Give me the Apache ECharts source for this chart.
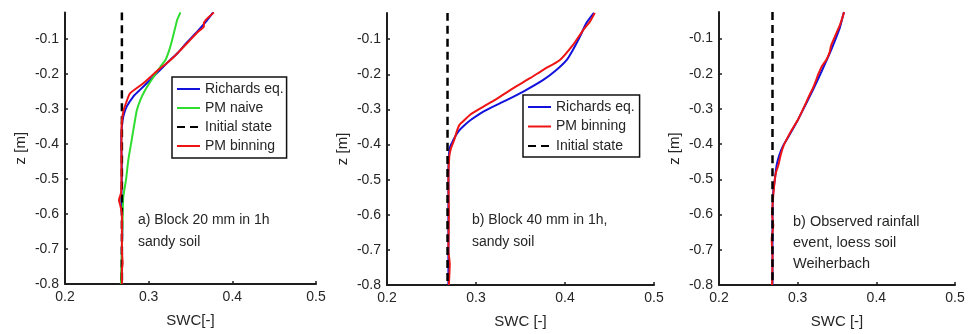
<!DOCTYPE html>
<html>
<head>
<meta charset="utf-8">
<script src="https://cdn.jsdelivr.net/npm/echarts@6/dist/echarts.min.js"></script>
<style>
  html, body { margin: 0; padding: 0; background: #fff; }
  #chart { width: 968px; height: 334px; }
</style>
</head>
<body>
<div id="chart"></div>
<script>
// ---- data (SWC [-], z [m]) ----
const zTicks = [-0.8, -0.7, -0.6, -0.5, -0.4, -0.3, -0.2, -0.1];
const swcTicks = [0.2, 0.3, 0.4, 0.5];
const zRange = [-0.8, -0.025];
const swcRange = [0.2, 0.5];
const initialState = [[0.268, -0.025], [0.268, -0.8]];

// panel a) Block 20 mm in 1h, sandy soil
const aRichards = [[0.377,-0.025],[0.369,-0.05],[0.358,-0.08],[0.346,-0.11],[0.335,-0.14],[0.326,-0.16],[0.3175,-0.18],[0.309,-0.2],[0.3016,-0.218],[0.2896,-0.246],[0.2816,-0.265],[0.2737,-0.294],[0.2697,-0.322],[0.268,-0.35],[0.2672,-0.4],[0.2678,-0.45],[0.2678,-0.5],[0.2675,-0.55],[0.268,-0.6],[0.2685,-0.65],[0.268,-0.7],[0.268,-0.75],[0.268,-0.8]];
const aNaive = [[0.338,-0.025],[0.334,-0.047],[0.332,-0.066],[0.330,-0.085],[0.327,-0.113],[0.324,-0.137],[0.320,-0.161],[0.314,-0.180],[0.310,-0.194],[0.302,-0.223],[0.296,-0.246],[0.290,-0.275],[0.286,-0.303],[0.2837,-0.332],[0.2797,-0.389],[0.2757,-0.446],[0.2729,-0.503],[0.2697,-0.551],[0.269,-0.597],[0.2678,-0.711],[0.2668,-0.8]];
const aBinning = [[0.378,-0.025],[0.371,-0.04],[0.366,-0.055],[0.366,-0.065],[0.359,-0.08],[0.347,-0.11],[0.339,-0.13],[0.331,-0.15],[0.3215,-0.17],[0.3115,-0.189],[0.304,-0.205],[0.2936,-0.227],[0.2777,-0.256],[0.2735,-0.28],[0.2697,-0.308],[0.2678,-0.341],[0.2675,-0.4],[0.2675,-0.5],[0.267,-0.54],[0.2645,-0.56],[0.266,-0.575],[0.268,-0.6],[0.268,-0.65],[0.268,-0.7],[0.2688,-0.74],[0.268,-0.76],[0.268,-0.8]];

// panel b) Block 40 mm in 1h, sandy soil
const bRichards = [[0.4325,-0.025],[0.424,-0.054],[0.4167,-0.093],[0.409,-0.13],[0.402,-0.159],[0.3906,-0.187],[0.3756,-0.216],[0.3532,-0.249],[0.3307,-0.278],[0.3083,-0.306],[0.294,-0.33],[0.287,-0.345],[0.281,-0.36],[0.2766,-0.377],[0.273,-0.395],[0.2705,-0.41],[0.2695,-0.434],[0.269,-0.47],[0.269,-0.55],[0.269,-0.65],[0.269,-0.75],[0.269,-0.8]];
const bBinning = [[0.4335,-0.025],[0.428,-0.05],[0.4204,-0.074],[0.409,-0.116],[0.3943,-0.159],[0.3756,-0.187],[0.3607,-0.211],[0.342,-0.239],[0.3214,-0.273],[0.3083,-0.292],[0.2934,-0.315],[0.285,-0.335],[0.2814,-0.344],[0.279,-0.358],[0.2755,-0.387],[0.272,-0.41],[0.270,-0.434],[0.269,-0.5],[0.2695,-0.6],[0.269,-0.7],[0.2705,-0.74],[0.2695,-0.8]];

// panel c) Observed rainfall event, loess soil Weiherbach
const cRichards = [[0.3588,-0.025],[0.3538,-0.068],[0.3495,-0.094],[0.341,-0.141],[0.3305,-0.193],[0.3198,-0.244],[0.3071,-0.301],[0.2987,-0.338],[0.289,-0.376],[0.2817,-0.404],[0.2766,-0.432],[0.2733,-0.46],[0.2711,-0.498],[0.269,-0.535],[0.2682,-0.573],[0.268,-0.65],[0.268,-0.8]];
const cBinning = [[0.359,-0.025],[0.354,-0.06],[0.3474,-0.094],[0.3425,-0.12],[0.3405,-0.14],[0.3365,-0.16],[0.3305,-0.18],[0.3265,-0.2],[0.3205,-0.235],[0.3135,-0.268],[0.307,-0.3],[0.3005,-0.33],[0.2925,-0.36],[0.2875,-0.38],[0.282,-0.405],[0.2785,-0.43],[0.2754,-0.46],[0.2725,-0.48],[0.271,-0.5],[0.269,-0.545],[0.2675,-0.6],[0.269,-0.63],[0.267,-0.67],[0.268,-0.72],[0.2675,-0.8]];

const legendA = ['Richards eq.', 'PM naive', 'Initial state', 'PM binning'];
const legendB = ['Richards eq.', 'PM binning', 'Initial state'];
const xNames = ['SWC[-]', 'SWC [-]', 'SWC [-]'];
const yName = 'z [m]';
const notes = ['a) Block 20 mm in 1h\nsandy soil', 'b) Block 40 mm in 1h,\nsandy soil', 'b) Observed rainfall\nevent, loess soil\nWeiherbach'];

// ---- styling ----
const FONT = '"Liberation Sans", Arial, sans-serif';
const TXT = '#262626';
const AX = '#1e1e1e';
const BLUE = '#1212dc';
const RED = '#ee1414';
const GREEN = '#30dc30';

const grids = [
  { left: 65, top: 12.4, width: 251, height: 271.6 },
  { left: 387, top: 12.9, width: 267, height: 272.4 },
  { left: 719, top: 12.1, width: 236, height: 275.2 }
];

function xAxis(i) {
  return {
    type: 'value', gridIndex: i, min: swcRange[0], max: swcRange[1], interval: 0.1,
    name: xNames[i], nameLocation: 'middle', nameGap: 29,
    nameTextStyle: { fontFamily: FONT, fontSize: 15, color: TXT },
    axisLine: { show: true, lineStyle: { color: AX, width: 2 } },
    axisTick: { show: true, inside: true, length: 3, lineStyle: { color: AX, width: 1.5 }, customValues: swcTicks },
    axisLabel: { fontFamily: FONT, fontSize: 14, color: TXT, margin: 6, customValues: swcTicks,
      formatter: v => v.toFixed(1) },
    splitLine: { show: false }
  };
}
function yAxis(i) {
  return {
    type: 'value', gridIndex: i, min: zRange[0], max: zRange[1],
    name: yName, nameLocation: 'middle', nameGap: 37,
    nameTextStyle: { fontFamily: FONT, fontSize: 15, color: TXT },
    axisLine: { show: true, lineStyle: { color: AX, width: 2 } },
    axisTick: { show: true, inside: true, length: 3, lineStyle: { color: AX, width: 1.5 }, customValues: zTicks },
    axisLabel: { fontFamily: FONT, fontSize: 14, color: TXT, margin: 6, customValues: zTicks,
      formatter: v => v.toFixed(1) },
    splitLine: { show: false }
  };
}
function line(name, data, i, color, width, z, dashed) {
  return {
    type: 'line', name, data, xAxisIndex: i, yAxisIndex: i,
    symbol: 'none', smooth: 0.2, z, silent: true, animation: false,
    lineStyle: dashed ? { color: '#000', width: 2.5, type: [8, 5] } : { color, width },
    itemStyle: { color: dashed ? '#000' : color }
  };
}

const legendCommon = {
  orient: 'vertical', itemWidth: 23, itemHeight: 14,
  backgroundColor: '#fff', borderColor: '#111', borderWidth: 1.5, borderRadius: 0,
  textStyle: { fontFamily: FONT, fontSize: 14, color: TXT },
  itemStyle: { opacity: 0, borderWidth: 0 },
  lineStyle: { inactiveWidth: 2 },
  selectedMode: false
};

const option = {
  animation: false,
  backgroundColor: '#fff',
  grid: grids,
  xAxis: [0, 1, 2].map(xAxis),
  yAxis: [0, 1, 2].map(yAxis),
  legend: [
    Object.assign({}, legendCommon, { data: legendA, left: 172, top: 77, itemGap: 5, padding: [5, 3, 5, 4] }),
    Object.assign({}, legendCommon, { data: legendB, left: 523, top: 95, itemGap: 5.5, padding: [5, 5, 4, 4] })
  ],
  graphic: [
    { type: 'text', left: 138, top: 209, silent: true,
      style: { text: notes[0], font: '14px ' + FONT, fill: TXT, lineHeight: 22 } },
    { type: 'text', left: 472, top: 209, silent: true,
      style: { text: notes[1], font: '14px ' + FONT, fill: TXT, lineHeight: 22 } },
    { type: 'text', left: 793, top: 211, silent: true,
      style: { text: notes[2], font: '14.5px ' + FONT, fill: TXT, lineHeight: 21 } }
  ],
  series: [
    line('Richards eq.', aRichards, 0, BLUE, 2, 2),
    line('PM naive', aNaive, 0, GREEN, 2, 3),
    line('Initial state', initialState, 0, '#000', 2.5, 4, true),
    line('PM binning', aBinning, 0, RED, 2, 5),

    line('Richards eq.', bRichards, 1, BLUE, 2, 2),
    line('PM binning', bBinning, 1, RED, 2, 3),
    line('Initial state', initialState, 1, '#000', 2.5, 4, true),

    line('Richards eq.', cRichards, 2, BLUE, 2, 2),
    line('PM binning', cBinning, 2, RED, 2, 3),
    line('Initial state', initialState, 2, '#000', 2.5, 4, true)
  ]
};

const chart = echarts.init(document.getElementById('chart'), null, { renderer: 'canvas' });
chart.setOption(option);
</script>
</body>
</html>
